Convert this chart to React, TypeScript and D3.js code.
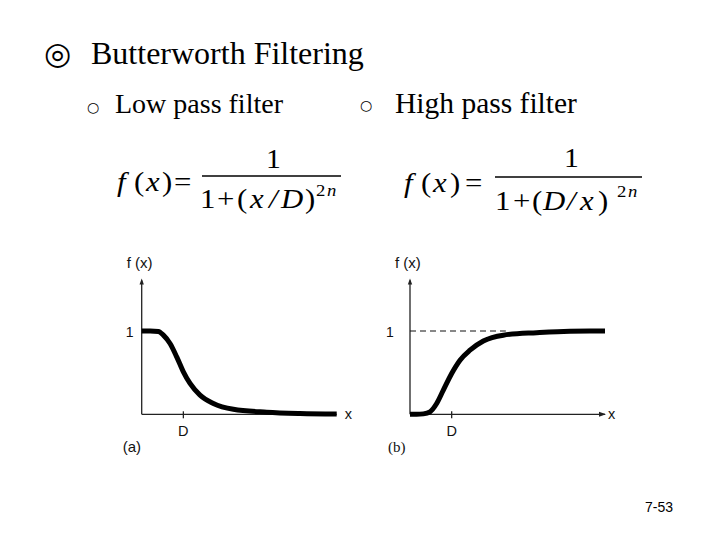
import React from "react";
import * as d3 from "d3";

// ---- data (x in units of D, y = f(x)) ----
const lowPassX = [0, 0.2, 0.4, 0.52, 0.68, 0.84, 1.0, 1.16, 1.4, 1.72, 2.2, 3.0, 3.8, 4.68];
const lowPassY = [1.0, 1.0, 0.995, 0.95, 0.85, 0.69, 0.51, 0.37, 0.23, 0.13, 0.06, 0.025, 0.01, 0.004];
const highPassX = [0, 0.16, 0.32, 0.48, 0.64, 0.8, 1.0, 1.2, 1.44, 1.76, 2.24, 3.04, 3.84, 4.68];
const highPassY = [0.0, 0.0, 0.005, 0.03, 0.13, 0.29, 0.49, 0.65, 0.77, 0.88, 0.95, 0.98, 0.998, 1.0];
const xTickValues = [1];
const xTickLabels = ["D"];
const yTickValues = [1];
const yTickLabels = ["1"];

const title = "Butterworth Filtering";
const subLeft = "Low pass filter";
const subRight = "High pass filter";
const pageNo = "7-53";

const SERIF = "'Liberation Serif', 'Times New Roman', serif";
const SANS = "'Liberation Sans', Arial, Helvetica, sans-serif";

type PanelProps = {
  x0: number;
  xs: number[];
  ys: number[];
  highPass: boolean;
  tag: string;
  tagFont: string;
  oneDx: number;
  tagDx: number;
  xLabDx: number;
};

function Panel({ x0, xs, ys, highPass, tag, tagFont, oneDx, tagDx, xLabDx }: PanelProps) {
  const xScale = d3.scaleLinear().domain([0, 4.68]).range([x0, x0 + 195]);
  const yScale = d3.scaleLinear().domain([0, 1]).range([414.3, 331]);
  const pts: [number, number][] = xs.map((v, i) => [v, ys[i]]);
  const line = d3
    .line<[number, number]>()
    .x((d) => xScale(d[0]))
    .y((d) => yScale(d[1]))
    .curve(d3.curveMonotoneX);
  const yTop = yScale(1.63);
  const xEnd = xScale(4.68);
  const axisColor = "#222";
  return (
    <g>
      <line x1={x0} y1={yScale(0)} x2={x0} y2={yTop + 2} stroke={axisColor} strokeWidth={1.3} />
      <path d={`M${x0 - 2.2},${yTop + 6} L${x0},${yTop} L${x0 + 2.2},${yTop + 6} Z`} fill={axisColor} />
      <line x1={x0} y1={yScale(0)} x2={xEnd} y2={yScale(0)} stroke={axisColor} strokeWidth={1.3} />
      {highPass && (
        <path
          d={`M${xEnd - 6},${yScale(0) - 2.5} L${xEnd + 1},${yScale(0)} L${xEnd - 6},${yScale(0) + 2.5} Z`}
          fill={axisColor}
        />
      )}
      {xTickValues.map((v, i) => (
        <g key={"xt" + i}>
          <line x1={xScale(v)} x2={xScale(v)} y1={yScale(0) - 3} y2={yScale(0) + 4} stroke={axisColor} strokeWidth={1.3} />
          <text x={xScale(v)} y={435.5} textAnchor="middle" fontFamily={SANS} fontSize={14.5} fill="#111">
            {xTickLabels[i]}
          </text>
        </g>
      ))}
      {yTickValues.map((v, i) => (
        <text key={"yt" + i} x={x0 + oneDx} y={yScale(v) + 5.5} textAnchor="middle" fontFamily={SANS} fontSize={14} fill="#111">
          {yTickLabels[i]}
        </text>
      ))}
      {highPass &&
        yTickValues.map((v, i) => (
          <line
            key={"dl" + i}
            x1={x0}
            x2={xScale(2.3)}
            y1={yScale(v)}
            y2={yScale(v)}
            stroke="#111"
            strokeWidth={1}
            strokeDasharray="6,4"
          />
        ))}
      <text x={x0 - 15} y={268} fontFamily={SANS} fontSize={15} fill="#111">
        f (x)
      </text>
      <text x={xEnd + xLabDx} y={419} fontFamily={SANS} fontSize={14.5} fill="#111">
        x
      </text>
      <text x={x0 + tagDx} y={452} fontFamily={tagFont} fontSize={15} fill="#111">
        {tag}
      </text>
      <path d={line(pts) || ""} fill="none" stroke="#000" strokeWidth={5} />
    </g>
  );
}

type G = { t: string; x: number; it?: boolean; sup?: boolean };

const SX = 1.1;

// one <text> per formula row; glyphs are tspans positioned in the row's (horizontally stretched) frame
function Row({ glyphs, y, fs, supDy = 0 }: { glyphs: G[]; y: number; fs: number; supDy?: number }) {
  const ox = glyphs[0].x;
  return (
    <text transform={`translate(${ox},${y}) scale(${SX},1)`} fontSize={fs}>
      {glyphs.map((g, i) => (
        <tspan
          key={i}
          x={(g.x - ox) / SX}
          y={g.sup ? supDy : 0}
          fontStyle={g.it ? "italic" : "normal"}
          fontSize={g.sup ? 17 : fs}
        >
          {g.t}
        </tspan>
      ))}
    </text>
  );
}

function Formula({ left, leftY, num, numY, den, denY, supDy, barX1, barX2, barY }: {
  left: G[]; leftY: number; num: G[]; numY: number; den: G[]; denY: number; supDy: number;
  barX1: number; barX2: number; barY: number;
}) {
  return (
    <g fontFamily={SERIF} fill="#000">
      <Row glyphs={left} y={leftY} fs={28} />
      <Row glyphs={num} y={numY} fs={27} />
      <line x1={barX1} x2={barX2} y1={barY} y2={barY} stroke="#000" strokeWidth={1.5} />
      <Row glyphs={den} y={denY} fs={28} supDy={supDy} />
    </g>
  );
}

export default function App() {
  return (
    <svg
      width={720}
      height={540}
      viewBox="0 0 720 540"
      style={{ position: "absolute", left: 0, top: 0, background: "#fff" }}
    >
      <rect x={0} y={0} width={720} height={540} fill="#fff" />
      <text x={44} y={64} fontFamily="'DejaVu Sans', sans-serif" fontSize={31} fill="#000">◎</text>
      <text x={91} y={63.5} fontFamily={SERIF} fontSize={32} fill="#000">{title}</text>
      <text x={87} y={111.5} fontFamily="'DejaVu Sans', sans-serif" fontSize={14} fill="#000">○</text>
      <text x={115} y={113} fontFamily={SERIF} fontSize={28} fill="#000">{subLeft}</text>
      <text x={360} y={110} fontFamily="'DejaVu Sans', sans-serif" fontSize={14} fill="#000">○</text>
      <text x={395} y={113} fontFamily={SERIF} fontSize={29.5} fill="#000">{subRight}</text>

      <Formula
        left={[
          { t: "f", x: 117, it: true },
          { t: "(", x: 134 },
          { t: "x", x: 146, it: true },
          { t: ")", x: 162 },
          { t: "=", x: 174 },
        ]}
        leftY={191}
        num={[{ t: "1", x: 266 }]}
        numY={168}
        den={[
          { t: "1", x: 200 },
          { t: "+", x: 217 },
          { t: "(", x: 237 },
          { t: "x", x: 250, it: true },
          { t: "/", x: 269, it: true },
          { t: "D", x: 281, it: true },
          { t: ")", x: 305 },
          { t: "2", x: 316, sup: true },
          { t: "n", x: 327, it: true, sup: true },
        ]}
        denY={208}
        supDy={-12}
        barX1={202}
        barX2={341}
        barY={176}
      />
      <Formula
        left={[
          { t: "f", x: 404, it: true },
          { t: "(", x: 421 },
          { t: "x", x: 433, it: true },
          { t: ")", x: 450 },
          { t: "=", x: 465 },
        ]}
        leftY={192}
        num={[{ t: "1", x: 564 }]}
        numY={167}
        den={[
          { t: "1", x: 495 },
          { t: "+", x: 513 },
          { t: "(", x: 532 },
          { t: "D", x: 543, it: true },
          { t: "/", x: 567, it: true },
          { t: "x", x: 580, it: true },
          { t: ")", x: 598 },
          { t: "2", x: 617, sup: true },
          { t: "n", x: 628, it: true, sup: true },
        ]}
        denY={210}
        supDy={-13}
        barX1={495}
        barX2={642}
        barY={177}
      />

      <Panel x0={141.7} xs={lowPassX} ys={lowPassY} highPass={false} tag="(a)" tagFont={SANS} oneDx={-12} tagDx={-19} xLabDx={8} />
      <Panel x0={410} xs={highPassX} ys={highPassY} highPass={true} tag="(b)" tagFont={SERIF} oneDx={-20} tagDx={-22} xLabDx={3} />

      <text x={645} y={512} fontFamily={SANS} fontSize={14} fill="#000">{pageNo}</text>
    </svg>
  );
}
